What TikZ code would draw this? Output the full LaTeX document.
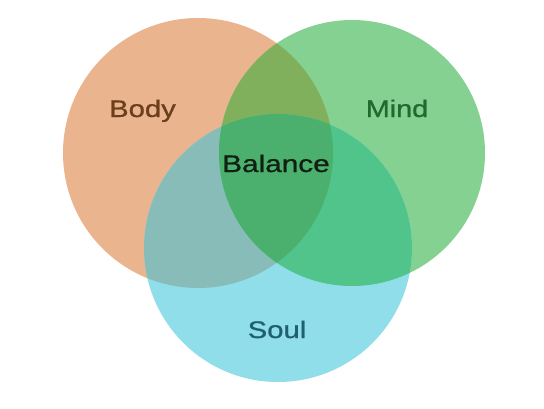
\documentclass[tikz,border=0pt]{standalone}
\usepackage{fontspec}
\setmainfont{Liberation Sans}
\newfontfamily\lblfont[FakeBold=0.8]{Liberation Sans}
\definecolor{bodyc}{HTML}{EAB58E}
\definecolor{mindc}{HTML}{85D192}
\definecolor{soulc}{HTML}{91DEEB}
\definecolor{bmc}{HTML}{80B05C}
\definecolor{bsc}{HTML}{88BCB8}
\definecolor{msc}{HTML}{50C48A}
\definecolor{allc}{HTML}{4BB06E}
\definecolor{bodyt}{HTML}{6B3F1C}
\definecolor{mindt}{HTML}{1F6A2C}
\definecolor{soult}{HTML}{1F6070}
\definecolor{balt}{HTML}{122014}
\begin{document}
\begin{tikzpicture}[x=1pt,y=-1pt,
  lbl/.style={inner sep=0pt, anchor=base, font=\lblfont\fontsize{24}{28}\selectfont}]
\useasboundingbox (0,0) rectangle (544,408);
\fill[white] (0,0) rectangle (544,408);
\def\bodycirc{(198,153) circle[radius=135]}
\def\mindcirc{(352,153) circle[radius=133]}
\def\soulcirc{(278,248) circle[radius=134]}
\fill[bodyc] \bodycirc;
\fill[mindc] \mindcirc;
\fill[soulc] \soulcirc;
\begin{scope}\clip \bodycirc; \fill[bmc] \mindcirc; \end{scope}
\begin{scope}\clip \bodycirc; \fill[bsc] \soulcirc; \end{scope}
\begin{scope}\clip \mindcirc; \fill[msc] \soulcirc; \end{scope}
\begin{scope}\clip \bodycirc; \clip \mindcirc; \fill[allc] \soulcirc; \end{scope}
\node[lbl, text=bodyt] (body) at (142.5,117) {\scalebox{1.22}[1]{Body}};
\node[lbl, text=mindt] (mind) at (397,117) {\scalebox{1.2}[1]{Mind}};
\node[lbl, text=balt] (balance) at (276,172) {\scalebox{1.24}[1]{Balance}};
\node[lbl, text=soult] (soul) at (277,338) {\scalebox{1.22}[1]{Soul}};
\end{tikzpicture}
\end{document}
